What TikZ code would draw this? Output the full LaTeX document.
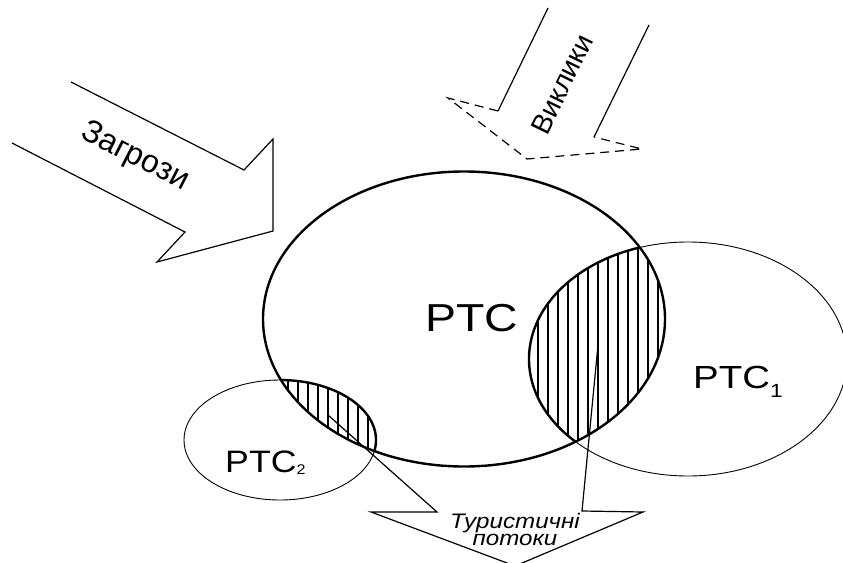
\documentclass[tikz,border=0pt]{standalone}
\usepackage{fontspec}
\setmainfont{Liberation Sans}
\newcommand\lowidx[3]{\raisebox{-#3}{\fontsize{#2}{#2}\selectfont #1}}
\begin{document}
\begin{tikzpicture}[x=1pt,y=-1pt,
    bold/.style={line width=2.4pt},
    fine/.style={line width=0.9pt},
    contour/.style={line width=1.2pt,line join=miter},
    hatch/.style={line width=1.8pt},
    lbl/.style={inner sep=0pt,anchor=base west}]
  \useasboundingbox (0,0) rectangle (843,562);
  \coordinate (rtc) at (464,319);
  \coordinate (rtc1) at (688,359);
  \coordinate (rtc2) at (280,440);
  % side systems, thin
  \draw[fine] (rtc1) ellipse [x radius=159, y radius=117];
  \draw[fine] (rtc2) ellipse [x radius=96, y radius=60];
  % overlaps
  \begin{scope}
    \clip (rtc) ellipse [x radius=201, y radius=147.5];
    \begin{scope}
      \clip (rtc1) ellipse [x radius=159, y radius=117];
      \foreach \x in {528,538,...,668} \draw[hatch] (\x,230) -- (\x,460);
    \end{scope}
    \begin{scope}
      \clip (rtc2) ellipse [x radius=96, y radius=60];
      \foreach \x in {278,288,...,378} \draw[hatch] (\x,370) -- (\x,460);
    \end{scope}
    \draw[bold] (rtc1) ellipse [x radius=159, y radius=117];
    \draw[bold] (rtc2) ellipse [x radius=96, y radius=60];
  \end{scope}
  \draw[bold] (rtc) ellipse [x radius=201, y radius=147.5];
  % labels
  \node[lbl,font=\fontsize{39}{39}\selectfont,xscale=1.19] (rtc label) at (425,331) {PTC};
  \node[lbl,font=\fontsize{32}{32}\selectfont,xscale=1.2] (rtc1 label) at (693,388) {PTC\lowidx{1}{19}{9pt}};
  \node[lbl,font=\fontsize{31}{31}\selectfont,xscale=1.15] (rtc2 label) at (225,472) {PTC\lowidx{2}{14}{2pt}};
  % threats
  \draw[contour] (71,82) -- (244,170) -- (273,139) -- (273,231) -- (157,262) -- (185,232) -- (12,143);
  \node[font=\fontsize{32}{32}\selectfont,rotate=-27] (threats) at (135,157) {Загрози};
  % challenges
  \draw[contour] (548,8) -- (498,111);
  \draw[contour,dash pattern=on 9pt off 6pt] (498,111) -- (448,98) -- (527,159) -- (642,149) -- (594,137);
  \draw[contour] (594,137) -- (649,25);
  \node[font=\fontsize{28}{28}\selectfont,rotate=64] (challenges) at (562,84) {Виклики};
  % tourist flows
  \draw[contour] (328,415) -- (437,512) -- (371,512) -- (515,566) -- (643,512) -- (582,511) -- (598,345);
  \node[align=center,inner sep=0pt,xscale=1.15,font=\itshape\fontsize{21}{17}\selectfont] (flows) at (515,529) {Туристичні\\потоки};
\end{tikzpicture}
\end{document}
